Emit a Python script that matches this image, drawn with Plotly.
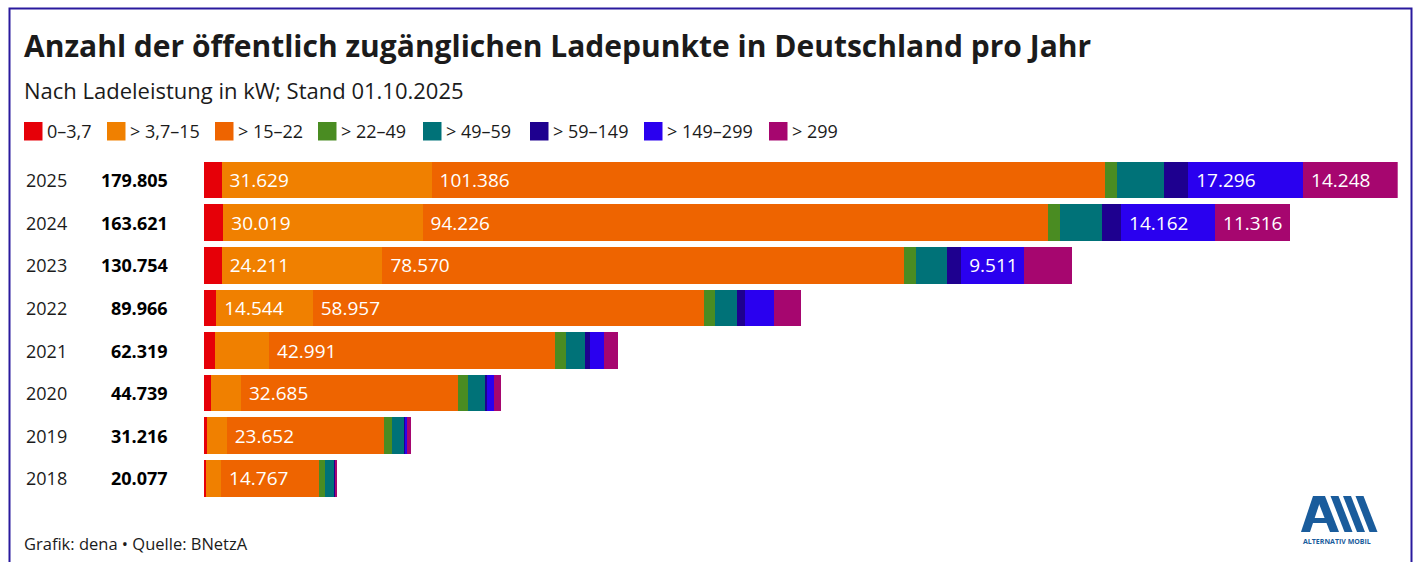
import plotly.graph_objects as go

W, H = 1415, 562

# data
years = ["2025", "2024", "2023", "2022", "2021", "2020", "2019", "2018"]
series_names = ["0–3,7", "> 3,7–15", "> 15–22", "> 22–49", "> 49–59", "> 59–149", "> 149–299", "> 299"]
series_colors = ["#e60008", "#f08000", "#ee6400", "#4a8c22", "#007278", "#1e008f", "#2a00ef", "#a6066f"]

kw_0_3 = [2650, 2911, 2673, 1847, 1669, 1055, 410, 290]
kw_3_15 = [31629, 30019, 24211, 14544, 8145, 4520, 3025, 2290]
kw_15_22 = [101386, 94226, 78570, 58957, 42991, 32685, 23652, 14767]
kw_22_49 = [1870, 1822, 1831, 1648, 1669, 1457, 1260, 905]
kw_49_59 = [7060, 6306, 4702, 3294, 2881, 2561, 1875, 1430]
kw_59_149 = [3666, 2859, 2079, 1198, 809, 301, 150, 50]
kw_149_299 = [17296, 14162, 9511, 4388, 2078, 1105, 240, 145]
kw_299 = [14248, 11316, 7177, 4090, 2077, 1055, 604, 200]

series = [kw_0_3, kw_3_15, kw_15_22, kw_22_49, kw_49_59, kw_59_149, kw_149_299, kw_299]
totals = [sum(col) for col in zip(*series)]

FONT = "Open Sans"
DARK = "#1b1b1b"


def de(n):
    return f"{n:,}".replace(",", ".")


def px_x(x):
    return x / W


def px_y(y):
    return 1 - y / H


def note(text, x, y, size, anchor="left", color=DARK, yref="paper"):
    return dict(text=text, x=px_x(x), y=y if yref == "y" else px_y(y),
                xref="paper", yref=yref, xanchor=anchor, yanchor="middle",
                showarrow=False, font=dict(family=FONT, size=size, color=color))


fig = go.Figure()
for name, color, vals in zip(series_names, series_colors, series):
    fig.add_trace(go.Bar(
        y=years, x=vals, orientation="h", name=name,
        marker=dict(color=color, line=dict(width=0)),
        text=[" " + de(v) if v >= 9000 else "" for v in vals],
        textposition="inside", insidetextanchor="start", textangle=0,
        textfont=dict(family=FONT, size=19, color="white"),
        constraintext="none",
        hoverinfo="name+x",
    ))

annotations = [
    note("<b>Anzahl der öffentlich zugänglichen Ladepunkte in Deutschland pro Jahr</b>", 22, 45, 30),
    note("Nach Ladeleistung in kW; Stand 01.10.2025", 22, 90, 22),
    note("Grafik: dena • Quelle: BNetzA", 22, 543, 16.5),
    note("<b>ALTERNATIV MOBIL</b>", 1337, 541, 7, anchor="center", color="#1a5c9c"),
]

for i, (yr, tot) in enumerate(zip(years, totals)):
    annotations.append(note(yr, 24, i, 18, yref="y"))
    annotations.append(note(f"<b>{de(tot)}</b>", 170, i, 18, anchor="right", color="#000000", yref="y"))

# custom legend
legend_x = [24, 107, 215, 318, 423, 530, 644, 769]
shapes = []
for lx, name, color in zip(legend_x, series_names, series_colors):
    shapes.append(dict(type="rect", xref="paper", yref="paper",
                       x0=px_x(lx), x1=px_x(lx + 18.5), y0=px_y(140.5), y1=px_y(122),
                       fillcolor=color, line=dict(width=0)))
    annotations.append(note(name, lx + 21, 131, 18))

# frame
shapes.append(dict(type="rect", xref="paper", yref="paper",
                   x0=px_x(9.5), x1=px_x(1411.5), y0=-0.1, y1=px_y(8.5),
                   line=dict(color="#2a1a9e", width=2), fillcolor="rgba(0,0,0,0)"))

# logo glyph (A + three slanted bars)
LOGO = "#1a5c9c"
top, bot = 496, 532


def poly(pts):
    return "M " + " L ".join(f"{px_x(a):.5f},{px_y(b):.5f}" for a, b in pts) + " Z"


logo_paths = [
    [(1301, bot), (1310, bot), (1322, top), (1313, top)],          # left leg
    [(1316, top), (1325, top), (1339, bot), (1330, bot)],          # right leg
    [(1308, 518), (1332, 518), (1334, 523), (1306, 523)],          # crossbar
]
for k in range(3):
    off = 12.5 * (k + 1)
    logo_paths.append([(1318 + off, top), (1326 + off, top), (1340 + off, bot), (1332 + off, bot)])
for p in logo_paths:
    shapes.append(dict(type="path", xref="paper", yref="paper", path=poly(p),
                       fillcolor=LOGO, line=dict(width=0)))

fig.update_layout(
    width=W, height=H,
    margin=dict(l=0, r=0, t=0, b=0),
    barmode="stack", bargap=0.139,
    showlegend=False,
    paper_bgcolor="white", plot_bgcolor="white",
    font=dict(family=FONT, color=DARK),
    xaxis=dict(domain=[px_x(204), px_x(1397.7)], range=[0, max(totals)],
               visible=False, showgrid=False, zeroline=False),
    yaxis=dict(domain=[px_y(499.7), px_y(158.7)], type="category",
               categoryorder="array", categoryarray=years,
               range=[len(years) - 0.5, -0.5], autorange=False,
               visible=False, showgrid=False, zeroline=False),
    annotations=annotations,
    shapes=shapes,
)

fig.write_html("out.html", config={"displayModeBar": False},
               post_script="document.body.style.margin='0';")
